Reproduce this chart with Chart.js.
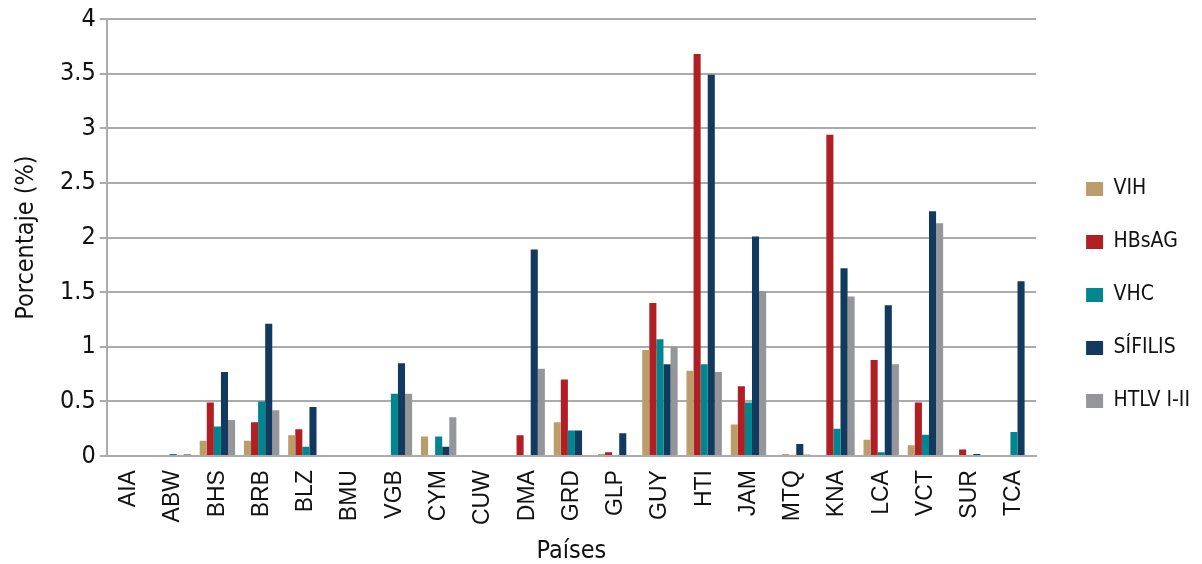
<!DOCTYPE html>
<html>
<head>
<meta charset="utf-8">
<script src="https://cdn.jsdelivr.net/npm/chart.js@4/dist/chart.umd.min.js"></script>
<style>
  html, body { margin: 0; padding: 0; background: #fff; }
  #wrap { width: 1202px; height: 564px; }
</style>
</head>
<body>
<div id="wrap"><canvas id="myChart" width="1202" height="564"></canvas></div>
<script>
const countries = ['AIA','ABW','BHS','BRB','BLZ','BMU','VGB','CYM','CUW','DMA','GRD','GLP','GUY','HTI','JAM','MTQ','KNA','LCA','VCT','SUR','TCA'];

const vih     = [0, 0, 0.14, 0.14, 0.19, 0, 0, 0.18, 0, 0, 0.31, 0.02, 0.97, 0.78, 0.29, 0, 0, 0.15, 0.10, 0, 0];
const hbsag   = [0, 0, 0.49, 0.31, 0.245, 0, 0, 0, 0, 0.19, 0.70, 0.035, 1.40, 3.68, 0.64, 0.015, 2.94, 0.88, 0.49, 0.06, 0];
const vhc     = [0, 0.02, 0.27, 0.50, 0.086, 0, 0.57, 0.18, 0, 0, 0.235, 0, 1.07, 0.84, 0.49, 0, 0.25, 0.035, 0.195, 0.01, 0.22];
const sifilis = [0, 0, 0.77, 1.21, 0.45, 0, 0.85, 0.085, 0, 1.89, 0.235, 0.21, 0.84, 3.49, 2.01, 0.11, 1.72, 1.38, 2.24, 0.02, 1.60];
const htlv    = [0, 0.02, 0.33, 0.42, 0, 0, 0.57, 0.355, 0, 0.80, 0, 0.01, 1.0, 0.77, 1.51, 0.015, 1.46, 0.84, 2.13, 0, 0];

const yTicks = [0, 0.5, 1, 1.5, 2, 2.5, 3, 3.5, 4];

const narrow = "'Liberation Sans Narrow', 'DejaVu Sans Condensed', 'Roboto', sans-serif";
const gridGray = '#ababab';

const CHART = document.getElementById('myChart');
let barChart = new Chart(CHART, {
  type: 'bar',
  data: {
    labels: countries,
    datasets: [
      { label: 'VIH', data: vih, backgroundColor: '#bb9d6b' },
      { label: 'HBsAG', data: hbsag, backgroundColor: '#b01f24' },
      { label: 'VHC', data: vhc, backgroundColor: '#00868f' },
      { label: 'SÍFILIS', data: sifilis, backgroundColor: '#123a5e' },
      { label: 'HTLV I-II', data: htlv, backgroundColor: '#95969a' }
    ]
  },
  options: {
    responsive: false,
    animation: false,
    devicePixelRatio: 1,
    layout: { padding: { left: 11, right: 20, top: 14, bottom: 0 } },
    datasets: { bar: { categoryPercentage: 0.8, barPercentage: 1.0 } },
    plugins: {
      legend: {
        position: 'right',
        align: 'center',
        labels: {
          boxWidth: 17,
          boxHeight: 14,
          padding: 32,
          color: '#111',
          font: { family: narrow, size: 21 }
        }
      },
      tooltip: { enabled: false }
    },
    scales: {
      x: {
        grid: { display: false, drawTicks: false },
        border: { color: gridGray, width: 2 },
        ticks: {
          color: '#111',
          maxRotation: 90,
          minRotation: 90,
          padding: 14,
          autoSkip: false,
          font: { family: "'Liberation Sans', Arial, sans-serif", size: 23 }
        },
        title: {
          display: true,
          text: 'Países',
          color: '#111',
          padding: { top: 0, bottom: 0 },
          font: { family: narrow, size: 25, lineHeight: 1 }
        }
      },
      y: {
        min: 0,
        max: 4,
        afterBuildTicks: axis => { axis.ticks = yTicks.map(v => ({ value: v })); },
        grid: { color: gridGray, lineWidth: 2, tickLength: 7 },
        border: { color: gridGray, width: 2 },
        ticks: {
          color: '#111',
          padding: 4,
          callback: v => String(v),
          font: { family: narrow, size: 25 }
        },
        title: {
          display: true,
          text: 'Porcentaje (%)',
          color: '#111',
          padding: { top: 0, bottom: 15 },
          font: { family: narrow, size: 25 }
        }
      }
    }
  }
});

// nudge the legend back right and a bit down, like the original
const lg = barChart.legend;
const drawLegend = lg.draw.bind(lg);
lg.draw = function () {
  const ctx = this.ctx;
  ctx.save();
  ctx.translate(18, 6);
  drawLegend();
  ctx.restore();
};
barChart.update();
</script>
</body>
</html>
